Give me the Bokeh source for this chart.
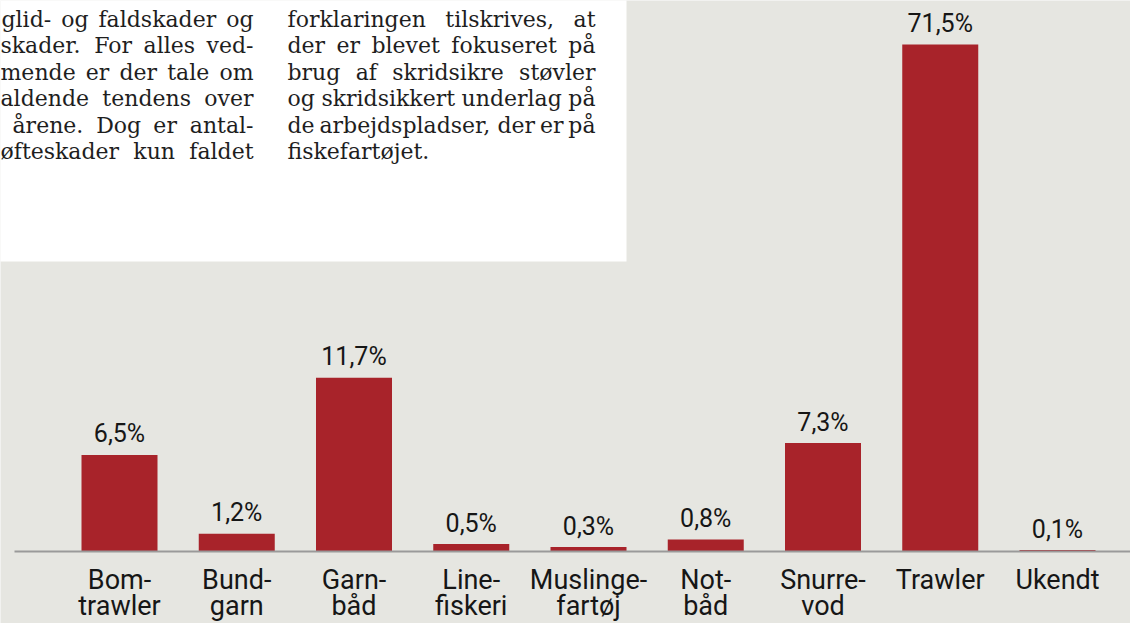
from bokeh.plotting import figure
from bokeh.models import Range1d, ColumnDataSource
from bokeh.core.properties import value
from bokeh.embed import file_html
from bokeh.resources import INLINE

# ---------------- data ----------------
categories = ["Bomtrawler", "Bundgarn", "Garnbåd", "Linefiskeri", "Muslingefartøj",
              "Notbåd", "Snurrevod", "Trawler", "Ukendt"]
label_line1 = ["Bom-", "Bund-", "Garn-", "Line-", "Muslinge-", "Not-", "Snurre-", "Trawler", "Ukendt"]
label_line2 = ["trawler", "garn", "båd", "fiskeri", "fartøj", "båd", "vod", "", ""]
shares = [6.5, 1.2, 11.7, 0.5, 0.3, 0.8, 7.3, 71.5, 0.1]

col1_lines = ["glid- og faldskader og", "skader. For alles ved-", "mende er der tale om",
              "aldende tendens over", "årene. Dog er antal-", "øfteskader kun faldet"]
col2_lines = ["forklaringen tilskrives, at", "der er blevet fokuseret på",
              "brug af skridsikre støvler", "og skridsikkert underlag på",
              "de arbejdspladser, der er på", "fiskefartøjet."]

# ---------------- layout helpers ----------------
W, H = 1130, 623
OFF = 0
PX_X = 117.25          # px per category
CX0 = 119              # centre of first bar (page px)
PX_Y = 14.85           # px per percent point
BASE = 551             # baseline (page px)

def rx(X):
    return (X - CX0) / PX_X

def ry(Y):
    return (BASE - Y) / PX_Y

Y_CAP = ry(44)         # broken axis: tall bar truncated at this height

BG = "#e6e6e1"
BAR = "#a8232a"
INK = "#161616"

p = figure(width=W, height=H, output_backend="svg", toolbar_location=None,
           x_axis_type=None, y_axis_type=None, min_border=0,
           x_range=Range1d(rx(OFF), rx(OFF + W)), y_range=Range1d(ry(OFF + H), ry(OFF)))
p.background_fill_color = BG
p.border_fill_color = BG
p.outline_line_color = None
p.grid.visible = False

# ---------------- white text box with article text ----------------
p.quad(left=[rx(-10)], right=[rx(626)], bottom=[ry(261)], top=[ry(-10)],
       fill_color="white", line_color=None)

# approximate DejaVu Serif advance widths (em) used to justify the lines
ADV = dict(a=.596, b=.640, c=.560, d=.640, e=.592, f=.370, g=.640, h=.644, i=.320, j=.310,
           k=.606, l=.320, m=.948, n=.644, o=.602, p=.640, q=.640, r=.478, s=.513, t=.402,
           u=.644, v=.565, w=.856, x=.564, y=.565, z=.530)
ADV.update({"å": .596, "ø": .602, "æ": .93, ",": .318, ".": .318, "-": .338, " ": .318,
            "F": .64, "D": .77})
FS = 22

def wlen(w):
    return sum(ADV.get(c, .6) for c in w) * FS

def justify(lines, left, right, last_ragged):
    wx, wy, wt = [], [], []
    for k, (line, b) in enumerate(zip(lines, baselines)):
        words = line.split()
        lft = left[k] if isinstance(left, list) else left
        if (last_ragged and k == len(lines) - 1) or len(words) == 1:
            gap = ADV[" "] * FS
        else:
            gap = (right - lft - sum(wlen(w) for w in words)) / (len(words) - 1)
        x = lft
        for w in words:
            wx.append(rx(x)); wy.append(ry(b) + 0.44 * FS / PX_Y); wt.append(w)
            x += wlen(w) + gap
    return wx, wy, wt

baselines = [28.5, 55, 81.5, 108, 134.5, 161]
c1 = justify(col1_lines, [1, 0, 0, 0, 12, 0], 253, False)
c2 = justify(col2_lines, 287, 595, True)
for cx, cy, ct in (c1, c2):
    p.text(x=cx, y=cy, text=ct, text_font=value("DejaVu Serif"), text_font_size=f"{FS}px",
           text_color="#1e1e1e", text_align="left", text_baseline="middle")

# ---------------- bars ----------------
xs = list(range(len(categories)))
tops = [min(v, Y_CAP) for v in shares]
labels = [f"{v:.1f}".replace(".", ",") + "%" for v in shares]
src = ColumnDataSource(dict(x=xs, top=tops, lab=labels,
                            lab_y=[t + (10 + 0.44 * 25) / PX_Y for t in tops],
                            l1=label_line1, l2=label_line2))
p.vbar(x="x", top="top", bottom=0, width=76 / PX_X, source=src, fill_color=BAR, line_color=None)

# baseline
p.segment(x0=[rx(14)], x1=[rx(1140)], y0=[0], y1=[0], line_color="#9a9a9a", line_width=2)

# value labels
p.text(x="x", y="lab_y", text="lab", source=src, text_font=value("Roboto"),
       text_font_size="25px", text_color=INK, text_align="center", text_baseline="middle")

# category labels (two lines)
p.text(x="x", y=ry(591 - 0.44 * 27), text="l1", source=src, text_font=value("Roboto"),
       text_font_size="27px", text_color=INK, text_align="center", text_baseline="middle")
p.text(x="x", y=ry(617 - 0.44 * 27), text="l2", source=src, text_font=value("Roboto"),
       text_font_size="27px", text_color=INK, text_align="center", text_baseline="middle")

open("out.html", "w").write(file_html(p, INLINE))
